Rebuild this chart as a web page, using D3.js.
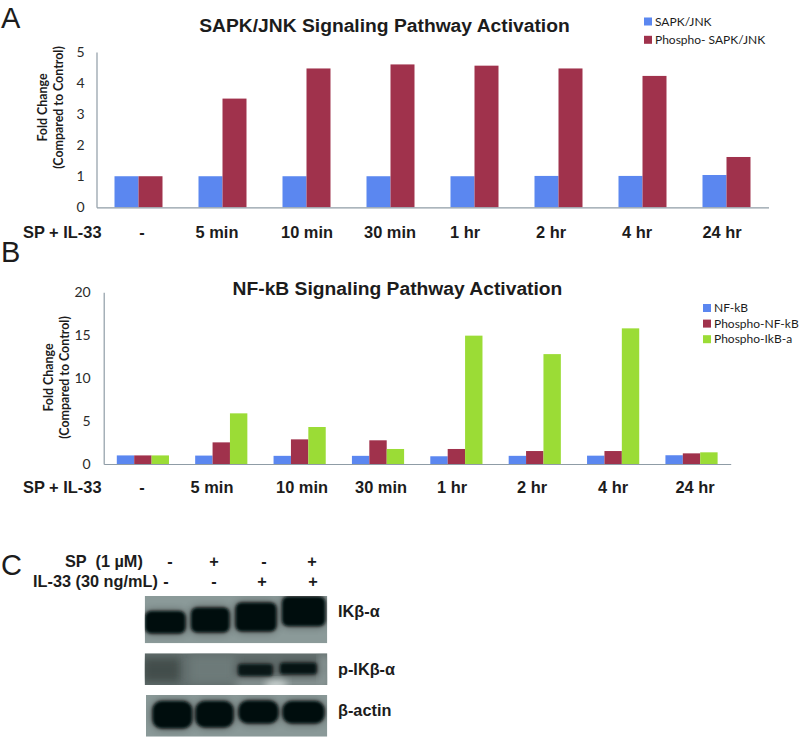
<!DOCTYPE html>
<html><head><meta charset="utf-8">
<script src="https://cdn.jsdelivr.net/npm/d3@7/dist/d3.min.js"></script>
<style>
html,body{margin:0;padding:0;background:#fff}
svg{display:block}
text{fill:#1c1c1c;white-space:pre}
.ar{font-family:"Liberation Sans",Arial,sans-serif}
.ca{font-family:Lato,"Open Sans",sans-serif}
</style></head><body>
<svg id="c" width="800" height="737"></svg>
<script>
// ---- data ----
const categories = ["-","5 min","10 min","30 min","1 hr","2 hr","4 hr","24 hr"];
const sapkJnk    = [1,1,1,1,1,1.01,1.01,1.04];
const phosphoJnk = [1,3.5,4.47,4.6,4.56,4.47,4.23,1.62];
const nfkb       = [1,0.98,0.95,0.95,0.9,0.95,0.97,1.02];
const phosphoNf  = [1,2.52,2.87,2.76,1.75,1.51,1.51,1.24];
const phosphoIkb = [1,5.9,4.31,1.75,14.95,12.8,15.8,1.36];
const ticksA = [0,1,2,3,4,5];
const ticksB = [0,5,10,15,20];
const legendA = ["SAPK/JNK","Phospho- SAPK/JNK"];
const legendB = ["NF-kB","Phospho-NF-kB","Phospho-IkB-a"];
const lanes = ["1","2","3","4"];
const spRow = ["-","+","-","+"];
const il33Row = ["-","-","+","+"];
// blot band strengths by lane (0..1)
const bandIkb   = [1,1,1,1];
const bandPIkb  = [0,0,0.85,0.9];
const bandActin = [1,1,1,1];

// ---- layout ----
const colors = ["#5b87f0","#a0324c","#9bdc36"];
const axisCol = "#8f9ca6";
const svg = d3.select("#c");

function panel(o){
  const g = svg.append("g");
  const x = d3.scaleBand().domain(categories).range([o.x0,o.x1]).paddingInner(0).paddingOuter(0);
  const keys = o.series.map((_,i)=>i);
  const gx = d3.scaleBand().domain(keys).range([o.pad,x.bandwidth()-o.pad]);
  const y = d3.scaleLinear().domain([0,o.ymax]).range([o.y0,o.y1]);
  o.series.forEach((s,i)=>{
    g.append("g").selectAll("rect").data(s).join("rect")
      .attr("x",(d,j)=>x(categories[j])+gx(i))
      .attr("width",gx.bandwidth())
      .attr("y",d=>y(d))
      .attr("height",d=>y(0)-y(d))
      .attr("fill",colors[i]);
  });
  const ya = g.append("g").attr("transform",`translate(${o.x0},0)`)
    .call(d3.axisLeft(y).tickValues(o.ticks).tickFormat(d3.format("d")).tickSize(0).tickPadding(o.tickPad));
  ya.select(".domain").attr("stroke",axisCol).attr("stroke-width",1.2);
  ya.selectAll("text").style("font-size","14px").style("font-family","Lato").style("fill","#2a2a2a");
  const xa = g.append("g").attr("transform",`translate(0,${o.y0})`)
    .call(d3.axisBottom(x).tickSize(0).tickFormat(""));
  xa.select(".domain").attr("stroke",axisCol).attr("stroke-width",1.2);
  const lx = d3.scaleOrdinal(categories,o.labelX);
  g.append("g").selectAll("text").data(categories).join("text")
    .attr("class","ar").attr("x",d=>lx(d)).attr("y",o.labelY)
    .attr("text-anchor","middle").attr("font-weight","bold").attr("font-size",16.4).text(d=>d);
  g.append("text").attr("class","ar").attr("x",23).attr("y",o.labelY)
    .attr("font-weight","bold").attr("font-size",16.4).text("SP + IL-33");
  g.append("text").attr("class","ar").attr("x",o.titleX).attr("y",o.titleY)
    .attr("text-anchor","middle").attr("font-weight","bold").attr("font-size",o.titleSize).text(o.title);
  const yl = g.append("text").attr("class","ca").attr("transform",`translate(${o.ylX},${o.ylY}) rotate(-90)`)
    .attr("text-anchor","middle").attr("font-weight","bold").attr("font-size",o.ylSize);
  yl.append("tspan").attr("x",0).attr("y",0).text("Fold Change");
  yl.append("tspan").attr("x",0).attr("y",16).text("(Compared to Control)");
  o.legend.forEach((t,i)=>{
    const ly = o.legY + i*o.legStep;
    g.append("rect").attr("x",o.legX).attr("y",ly).attr("width",8).attr("height",8).attr("fill",colors[i]);
    g.append("text").attr("class","ca").attr("x",o.legX+11).attr("y",ly+8).attr("font-size",12).text(t);
  });
}
panel({x0:96.5,x1:768.5,y0:207.3,y1:52,pad:18,ymax:5,ticks:ticksA,tickPad:12,series:[sapkJnk,phosphoJnk],
  labelX:[142,217,307,390,465,551,637,722],labelY:238,title:"SAPK/JNK Signaling Pathway Activation",
  titleX:384.5,titleY:32,titleSize:19.25,ylX:46.5,ylY:107.5,ylSize:12.4,legend:legendA,legX:644,legY:17.5,legStep:18.3});
panel({x0:103.7,x1:730.7,y0:464,y1:292.3,pad:13.1,ymax:20,ticks:ticksB,tickPad:13,series:[nfkb,phosphoNf,phosphoIkb],
  labelX:[142,212,302,381,452,532,613,695],labelY:493,title:"NF-kB Signaling Pathway Activation",
  titleX:397.5,titleY:295,titleSize:19.25,ylX:53,ylY:377.5,ylSize:12.4,legend:legendB,legX:703,legY:304,legStep:15.6});

// panel letters
[["A",28],["B",262],["C",575]].forEach(([t,y])=>{
  svg.append("text").attr("class","ar").attr("x",1).attr("y",y).attr("font-size",29).text(t);
});

// ---- panel C ----
const defs = svg.append("defs");
[["b1",1.4],["b4",4],["b6",6]].forEach(([id,s])=>{
  defs.append("filter").attr("id",id).attr("x","-30%").attr("y","-60%").attr("width","160%").attr("height","220%")
    .append("feGaussianBlur").attr("stdDeviation",s);
});
const cp = (id,x,y,w,h)=>defs.append("clipPath").attr("id",id).append("rect").attr("x",x).attr("y",y).attr("width",w).attr("height",h);

function blot(o){
  cp(o.id,o.x0,o.y0,o.x1-o.x0,o.y1-o.y0);
  const g = svg.append("g").attr("clip-path",`url(#${o.id})`);
  g.append("rect").attr("x",o.x0).attr("y",o.y0).attr("width",o.x1-o.x0).attr("height",o.y1-o.y0).attr("fill",o.bg);
  (o.patches||[]).forEach(p=>{
    g.append("rect").attr("x",p[0]).attr("y",p[1]).attr("width",p[2]).attr("height",p[3]).attr("fill",p[4]).attr("filter","url(#b4)");
  });
  const draw = (cls,blur,rx,opacity)=>g.selectAll("rect."+cls).data(o.bands).join("rect").attr("class",cls)
    .attr("x",(d,i)=>o.laneX[i]).attr("width",(d,i)=>o.laneW[i])
    .attr("y",(d,i)=>o.laneY[i]).attr("height",(d,i)=>o.laneH[i])
    .attr("rx",rx).attr("fill","#060909").attr("opacity",d=>d*opacity)
    .attr("filter",`url(#${blur})`);
  draw("halo","b4",o.rx,0.45);
  draw("core","b1",o.rx,1);
}
blot({id:"k1",x0:144.7,x1:327.3,y0:596,y1:643.3,bg:"#8b9a99",bands:bandIkb,rx:6,
  laneX:[145,191,235.5,282],laneW:[40.5,38.5,41,43.3],laneY:[611,607.5,602.5,596.5],laneH:[22.5,25,29,29.7]});
blot({id:"k2",x0:144.7,x1:327.3,y0:653.3,y1:685,bg:"#626e6d",bands:bandPIkb,rx:3,
  patches:[[142,658,38,24,"#434d4c"],[190,655,45,28,"#6d7a79"],[236,678,92,10,"#8c9998"],[266,681,20,8,"#dfe6e4"],[319,655,10,30,"#8b9897"]],
  laneX:[146,192,238,280],laneW:[36,36,34.7,36.7],laneY:[664,664,664,662.7],laneH:[12,12,12,11.5]});
blot({id:"k3",x0:146,x1:327.3,y0:695,y1:736.7,bg:"#8a9998",bands:bandActin,rx:9,
  laneX:[152.5,195.5,238.5,282.5],laneW:[39.7,38,40,42],laneY:[701,701,700.5,701],laneH:[27.5,26.5,23,22.5]});

const signX1 = d3.scaleOrdinal(lanes,[170,214,264,312]);
const signX2 = d3.scaleOrdinal(lanes,[166,214,262,313]);
const tsize = 16.3;
const t = (s,x,y,a)=>svg.append("text").attr("class","ar").attr("x",x).attr("y",y)
  .attr("font-weight","bold").attr("font-size",tsize).attr("text-anchor",a||"start").text(s);
t("SP  (1 µM)",65,567);
t("IL-33 (30 ng/mL)",33,587);
lanes.forEach((l,i)=>{ t(spRow[i],signX1(l),567,"middle"); t(il33Row[i],signX2(l),587,"middle"); });
t("IKβ-α",338,617); t("p-IKβ-α",338,675); t("β-actin",338,716);
</script></body></html>
